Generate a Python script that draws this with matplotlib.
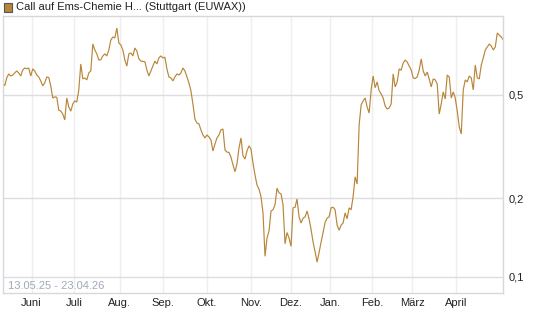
import matplotlib
matplotlib.use("Agg")
import matplotlib.pyplot as plt
from matplotlib.patches import Rectangle
import numpy as np

title = "Call auf Ems-Chemie H... (Stuttgart (EUWAX))"
date_range = "13.05.25 - 23.04.26"

prices = [
    0.559, 0.540, 0.579, 0.600, 0.589, 0.594, 0.605, 0.616, 0.605, 0.589,
    0.621, 0.632, 0.628, 0.632, 0.589, 0.627, 0.616, 0.594, 0.584, 0.564,
    0.540, 0.554, 0.584, 0.581, 0.540, 0.485, 0.490, 0.488, 0.436, 0.432,
    0.421, 0.400, 0.485, 0.448, 0.432, 0.460, 0.473, 0.468, 0.521, 0.655,
    0.574, 0.579, 0.569, 0.605, 0.616, 0.781, 0.741, 0.716, 0.678, 0.680,
    0.703, 0.716, 0.703, 0.741, 0.809, 0.831, 0.824, 0.899, 0.788, 0.774,
    0.741, 0.678, 0.643, 0.716, 0.722, 0.703, 0.754, 0.734, 0.685, 0.672,
    0.670, 0.668, 0.621, 0.589, 0.616, 0.643, 0.672, 0.655, 0.691, 0.703,
    0.691, 0.695, 0.627, 0.584, 0.579, 0.564, 0.584, 0.600, 0.594, 0.605,
    0.632, 0.616, 0.584, 0.554, 0.517, 0.460, 0.403, 0.389, 0.386, 0.366,
    0.350, 0.341, 0.350, 0.344, 0.335, 0.304, 0.323, 0.341, 0.350, 0.366,
    0.369, 0.307, 0.301, 0.300, 0.288, 0.269, 0.253, 0.271, 0.312, 0.341,
    0.291, 0.283, 0.304, 0.318, 0.309, 0.273, 0.246, 0.225, 0.217, 0.203,
    0.176, 0.120, 0.141, 0.150, 0.179, 0.181, 0.189, 0.219, 0.210, 0.208,
    0.189, 0.134, 0.148, 0.141, 0.131, 0.184, 0.185, 0.199, 0.170, 0.161,
    0.168, 0.170, 0.179, 0.167, 0.152, 0.136, 0.125, 0.114, 0.124, 0.136,
    0.148, 0.162, 0.168, 0.170, 0.184, 0.185, 0.181, 0.158, 0.151, 0.158,
    0.161, 0.176, 0.167, 0.184, 0.181, 0.203, 0.242, 0.227, 0.382, 0.456,
    0.473, 0.485, 0.448, 0.425, 0.521, 0.589, 0.531, 0.559, 0.517, 0.503,
    0.485, 0.452, 0.440, 0.444, 0.460, 0.600, 0.535, 0.559, 0.627, 0.620,
    0.660, 0.678, 0.666, 0.643, 0.621, 0.579, 0.576, 0.584, 0.621, 0.685,
    0.616, 0.589, 0.610, 0.574, 0.535, 0.574, 0.569, 0.549, 0.421, 0.460,
    0.512, 0.481, 0.594, 0.584, 0.485, 0.512, 0.485, 0.432, 0.376, 0.353,
    0.521, 0.569, 0.559, 0.589, 0.579, 0.521, 0.649, 0.579, 0.574, 0.649,
    0.691, 0.741, 0.761, 0.781, 0.767, 0.741, 0.761, 0.861, 0.845, 0.831,
    0.809,
]

month_labels = ["Juni", "Juli", "Aug.", "Sep.", "Okt.", "Nov.", "Dez.",
                "Jan.", "Feb.", "März", "April"]
month_day_index = [14.4, 35.5, 58.5, 80, 102, 124, 144, 163.5, 184.5, 204.5, 226.5]

y_ticks = [0.1, 0.2, 0.5]
y_tick_labels = ["0,1", "0,2", "0,5"]

line_color = "#b8863b"
font = ["Liberation Sans", "DejaVu Sans"]

W, H = 545, 327
fig = plt.figure(figsize=(W / 100, H / 100), dpi=100)
ax = fig.add_axes([2.7 / W, (H - 293) / H, 500.6 / W, 277 / H])

x = np.arange(len(prices))
ax.plot(x, prices, color=line_color, lw=0.85, solid_joinstyle="miter")

ax.set_yscale("log")
ax.set_ylim(0.0868, 1.0)
ax.set_xlim(0, len(prices) - 1)

ax.set_yticks(y_ticks)
ax.set_yticklabels(y_tick_labels)
ax.yaxis.set_minor_locator(matplotlib.ticker.NullLocator())
ax.yaxis.tick_right()
ax.set_xticks(month_day_index)
ax.set_xticklabels(month_labels)

for t in ax.get_xticklabels() + ax.get_yticklabels():
    t.set_fontfamily(font)
    t.set_fontsize(8)
    t.set_color("#222222")
ax.tick_params(axis="both", length=0)
ax.tick_params(axis="x", pad=3.5)
ax.tick_params(axis="y", pad=3.5)

ax.grid(axis="x", color="#eeeeee", lw=1)
ax.grid(axis="y", which="major", color="#dddddd", lw=1)
ax.set_axisbelow(True)
for s in ax.spines.values():
    s.set_color("#d8d8d8")
    s.set_linewidth(1)

ax.text(0.011, 0.024, date_range, transform=ax.transAxes, fontsize=8,
        family=font, color="#9fa8ba", ha="left", va="center")

fig.patches.append(Rectangle((3.5 / W, (H - 11.5) / H), 8 / W, 8 / H,
                             transform=fig.transFigure, facecolor=line_color,
                             edgecolor="#555555", lw=0.8))
fig.text(16 / W, (H - 7.5) / H, title, fontsize=8, family=font,
         color="#222222", ha="left", va="center")

fig.savefig("out.png", dpi=100)
